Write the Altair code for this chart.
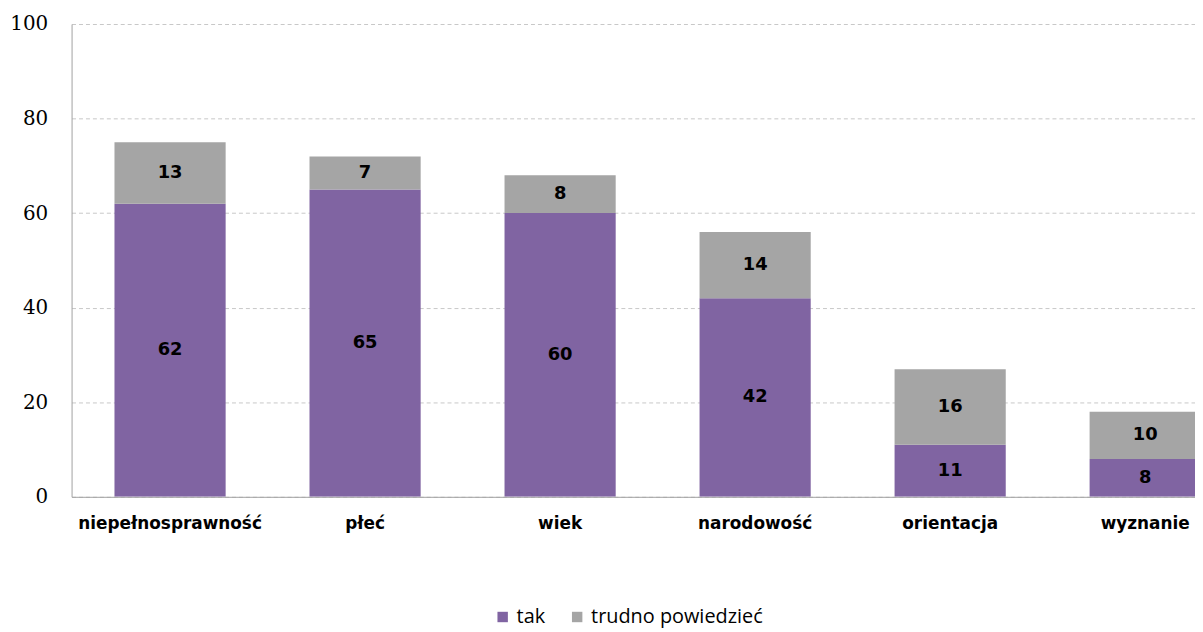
import altair as alt
import pandas as pd

categories = ["niepełnosprawność", "płeć", "wiek", "narodowość", "orientacja", "wyznanie"]
tak = [62, 65, 60, 42, 11, 8]
trudno = [13, 7, 8, 14, 16, 10]
series = ["tak", "trudno powiedzieć"]
colors = ["#8064A2", "#A5A5A5"]
y_ticks = [0, 20, 40, 60, 80, 100]

rows = []
for i, c in enumerate(categories):
    rows.append({"cat": c, "series": series[0], "value": tak[i], "ord": 0})
    rows.append({"cat": c, "series": series[1], "value": trudno[i], "ord": 1})
df = pd.DataFrame(rows)

xscale = alt.Scale(domain=categories, range=[0, 1180], paddingInner=0.43, paddingOuter=0.22)
yscale = alt.Scale(domain=[0, 100], nice=False)

base = alt.Chart(df).transform_stack(
    stack="value", groupby=["cat"], as_=["v0", "v1"], sort=[alt.SortField("ord")]
).transform_calculate(mid="(datum.v0 + datum.v1) / 2")

bars = base.mark_bar(clip=True).encode(
    x=alt.X("cat:N", sort=categories, scale=xscale, title=None,
            axis=alt.Axis(labelAngle=0, ticks=False, domainColor="#A0A0A0",
                          labelFont="DejaVu Sans", labelFontWeight="bold", labelFontSize=17,
                          labelColor="#000000", labelPadding=19, labelLimit=0)),
    y=alt.Y("v0:Q", scale=yscale, title=None,
            axis=alt.Axis(values=y_ticks, ticks=False, domainColor="#A0A0A0",
                          gridColor="#C8C8C8", gridDash=[4, 3], labelFont="DejaVu Serif",
                          labelFontSize=20, labelColor="#000000", labelPadding=24)),
    y2="v1:Q",
    color=alt.Color("series:N", scale=alt.Scale(domain=series, range=colors),
                    legend=alt.Legend(title=None, orient="none", legendX=424, legendY=587,
                                      direction="horizontal", symbolType="square",
                                      symbolSize=110, symbolStrokeWidth=0,
                                      labelFont="Open Sans", labelFontSize=20, labelLimit=0,
                                      labelColor="#000000", columnPadding=22, labelOffset=4)),
)

labels = base.mark_text(font="DejaVu Sans", fontWeight="bold", fontSize=18, color="#000000",
                        baseline="middle").encode(
    x=alt.X("cat:N", sort=categories, scale=xscale),
    y=alt.Y("mid:Q", scale=yscale),
    text=alt.Text("value:Q"),
)

chart = alt.layer(bars, labels).properties(
    width=1131, height=476,
    autosize=alt.AutoSizeParams(type="none"),
    padding={"left": 64, "top": 14, "right": 0, "bottom": 134},
).configure_view(stroke=None)

chart.save("out.html", embed_options={"renderer": "svg", "actions": False})
